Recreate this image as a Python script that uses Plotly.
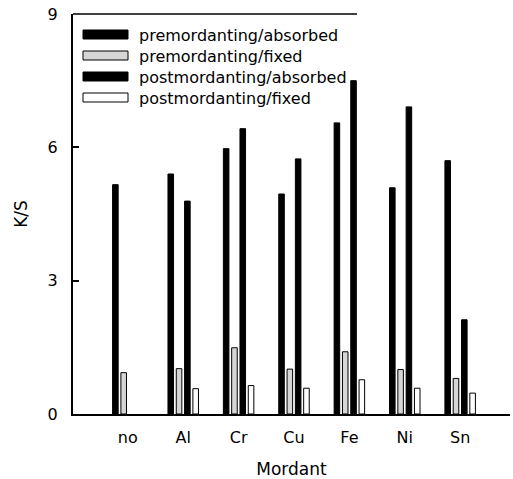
import plotly.graph_objects as go

# K/S of dyed samples for each mordant
mordants = ["no", "Al", "Cr", "Cu", "Fe", "Ni", "Sn"]
series_names = [
    "premordanting/absorbed",
    "premordanting/fixed",
    "postmordanting/absorbed",
    "postmordanting/fixed",
]
pre_absorbed = [5.16, 5.40, 5.97, 4.95, 6.55, 5.09, 5.70]
pre_fixed = [0.93, 1.02, 1.49, 1.01, 1.40, 1.00, 0.80]
post_absorbed = [None, 4.79, 6.42, 5.74, 7.50, 6.91, 2.12]
post_fixed = [None, 0.57, 0.64, 0.58, 0.77, 0.58, 0.47]
y_ticks = [0, 3, 6, 9]

series_values = [pre_absorbed, pre_fixed, post_absorbed, post_fixed]
fills = ["#000000", "#d6d6d6", "#000000", "#ffffff"]

FONT = "DejaVu Sans"

fig = go.Figure()
for name, vals, fill in zip(series_names, series_values, fills):
    fig.add_trace(go.Bar(
        x=mordants, y=vals, name=name,
        marker=dict(color=fill, line=dict(color="#000000", width=1)),
        showlegend=False,
    ))

# hand-drawn legend: wide swatches with labels
row_px = [34.5, 55.5, 76.5, 97.5]
plot_left, plot_w, plot_bottom, plot_h = 73, 437, 414, 400
shapes = []
annotations = []
for name, fill, ry in zip(series_names, fills, row_px):
    yc = (plot_bottom - ry) / plot_h
    shapes.append(dict(
        type="rect", xref="paper", yref="paper",
        x0=(83 - plot_left) / plot_w, x1=(128 - plot_left) / plot_w,
        y0=yc - 4.5 / plot_h, y1=yc + 4.5 / plot_h,
        fillcolor=fill, line=dict(color="#000000", width=1),
    ))
    annotations.append(dict(
        text=name, xref="paper", yref="paper",
        x=(137 - plot_left) / plot_w, y=yc - 1 / plot_h,
        xanchor="left", yanchor="middle", showarrow=False,
        font=dict(family=FONT, size=16, color="#000000"),
    ))

# top edge of the legend frame
shapes.append(dict(
    type="line", xref="paper", yref="paper",
    x0=0, x1=(357 - plot_left) / plot_w, y0=1, y1=1,
    line=dict(color="#000000", width=1.5),
))

fig.update_layout(
    width=513, height=479,
    margin=dict(l=73, r=3, t=14, b=65),
    paper_bgcolor="#ffffff", plot_bgcolor="#ffffff",
    barmode="group", bargap=0.4, bargroupgap=0.33,
    font=dict(family=FONT, size=16, color="#000000"),
    shapes=shapes, annotations=annotations,
    xaxis=dict(
        range=[-0.99, 6.9], showgrid=False, zeroline=False,
        showline=True, linecolor="#000000", linewidth=2,
        ticks="", ticklabelstandoff=8,
        tickfont=dict(family=FONT, size=16),
        title=dict(text="Mordant", font=dict(family=FONT, size=17), standoff=17),
    ),
    yaxis=dict(
        range=[0, 9], tickvals=y_ticks, showgrid=False, zeroline=False,
        showline=True, linecolor="#000000", linewidth=2,
        ticks="inside", ticklen=6, tickwidth=1.5, tickcolor="#000000",
        ticklabelstandoff=10,
        tickfont=dict(family=FONT, size=16),
        title=dict(text="K/S", font=dict(family=FONT, size=17), standoff=16),
    ),
)

fig.write_html("out.html")
